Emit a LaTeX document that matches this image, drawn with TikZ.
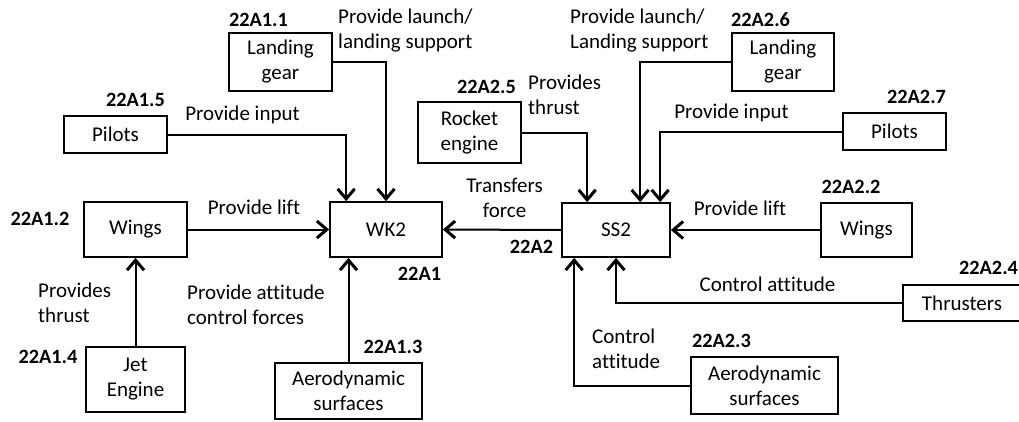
\documentclass[tikz,border=0pt]{standalone}
\usepackage{fontspec}
\setmainfont{Carlito}[Ligatures=NoCommon]
\usetikzlibrary{arrows.meta}
\begin{document}
\begin{tikzpicture}[x=1pt,y=-1pt,
  every node/.style={font=\fontsize{21}{25}\selectfont},
  box/.style={draw, line width=1.7pt, align=center, inner sep=0pt},
  lbl/.style={inner sep=0pt, font=\fontsize{20.3}{25}\selectfont\bfseries},
  txt/.style={inner sep=0pt, align=left},
  ctxt/.style={inner sep=0pt, align=center},
  arr/.style={line width=2pt, -{Straight Barb[length=10pt,width=17pt,line width=3pt]}}]
\useasboundingbox (0,0) rectangle (1019,421);
% boxes
\node[box, minimum width=103pt, minimum height=58pt] (lg1) at (280.5,62) {Landing\\gear};
\node[box, minimum width=103pt, minimum height=37pt] (pil1) at (115.5,134.5) {Pilots};
\node[box, minimum width=103pt, minimum height=55pt] (wing1) at (135.5,229.5) {Wings};
\node[box, minimum width=112pt, minimum height=55pt] (wk2) at (386,229.5) {WK2};
\node[box, minimum width=99pt, minimum height=65pt] (jet) at (135.5,379.5) {Jet\\Engine};
\node[box, minimum width=147pt, minimum height=56pt] (aero1) at (348.5,391) {Aerodynamic\\surfaces};
\node[box, minimum width=103pt, minimum height=61pt] (rocket) at (469.5,132.5) {Rocket\\engine};
\node[box, minimum width=108pt, minimum height=54pt] (ss2) at (616,230) {SS2};
\node[box, minimum width=102pt, minimum height=58pt] (lg2) at (783,62) {Landing\\gear};
\node[box, minimum width=103pt, minimum height=37pt] (pil2) at (894.5,131.5) {Pilots};
\node[box, minimum width=91pt, minimum height=54pt] (wing2) at (866.5,230) {Wings};
\node[box, minimum width=118pt, minimum height=36pt] (thr) at (962,303) {Thrusters};
\node[box, minimum width=147pt, minimum height=57pt] (aero2) at (764.5,385.5) {Aerodynamic\\surfaces};
% id labels
\node[lbl] (l11) at (258.5,20) {22A1.1};
\node[lbl] (l15) at (135.5,100) {22A1.5};
\node[lbl] (l12) at (40,219) {22A1.2};
\node[lbl] (l1) at (419.5,274) {22A1};
\node[lbl] (l14) at (48,357) {22A1.4};
\node[lbl] (l13) at (393,347) {22A1.3};
\node[lbl] (l25) at (486.5,87) {22A2.5};
\node[lbl] (l2) at (531.5,247) {22A2};
\node[lbl] (l26) at (760.5,20) {22A2.6};
\node[lbl] (l27) at (916.5,97) {22A2.7};
\node[lbl] (l22) at (851,187) {22A2.2};
\node[lbl] (l24) at (988.5,268) {22A2.4};
\node[lbl] (l23) at (721.5,341) {22A2.3};
% function texts
\node[txt, anchor=west] (t1) at (338,30.5) {Provide launch/\\landing support};
\node[txt] (t2) at (242.5,115) {Provide input};
\node[txt] (t3) at (254,207) {Provide lift};
\node[txt, anchor=west] (t4) at (38,302.5) {Provides\\thrust};
\node[txt, anchor=west] (t5) at (187,304.5) {Provide attitude\\control forces};
\node[txt, anchor=west] (t6) at (528,95) {Provides\\thrust};
\node[ctxt] (t7) at (504.5,197.5) {Transfers\\force};
\node[txt, anchor=west] (t8) at (570,30.5) {Provide launch/\\Landing support};
\node[txt] (t9) at (731.5,113) {Provide input};
\node[txt] (t10) at (740,208) {Provide lift};
\node[txt] (t11) at (767.5,284) {Control attitude};
\node[txt, anchor=west] (t12) at (592,349) {Control\\attitude};
% connectors
\draw[arr] (lg1.east) -| (wk2.north);
\draw[arr] (pil1.east) -| ([xshift=17pt]wk2.north west);
\draw[arr] (wing1.east) -- (wk2.west);
\draw[arr] (jet.north) -- (wing1.south);
\draw[arr] (aero1.north) -- (aero1.north |- wk2.south);
\draw[arr] (ss2.west) -- (wk2.east);
\draw[arr] (rocket.east) -| ([xshift=26pt]ss2.north west);
\draw[arr] (lg2.west) -| ([xshift=79pt]ss2.north west);
\draw[arr] (pil2.west) -| ([xshift=99pt]ss2.north west);
\draw[arr] (wing2.west) -- (ss2.east);
\draw[arr] (thr.west) -| (ss2.south);
\draw[arr] (aero2.west) -| ([xshift=13pt]ss2.south west);
\end{tikzpicture}
\end{document}
